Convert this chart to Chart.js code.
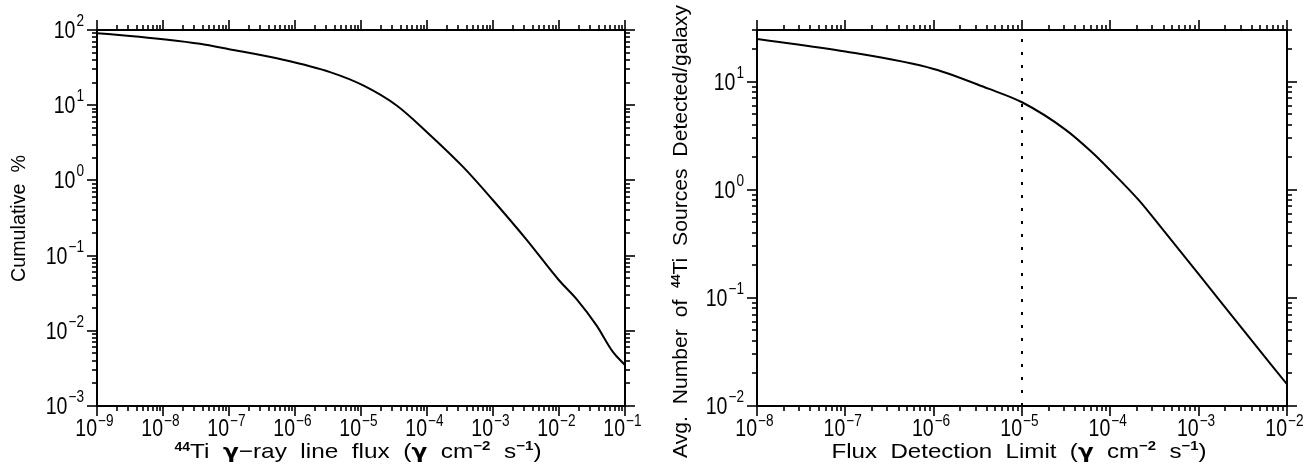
<!DOCTYPE html>
<html>
<head>
<meta charset="utf-8">
<script src="https://cdn.jsdelivr.net/npm/chart.js@4.4.1/dist/chart.umd.min.js"></script>
<style>
  html, body { margin: 0; padding: 0; background: #fff; }
  #wrap { position: relative; width: 1315px; height: 468px; }
  canvas { position: absolute; top: 0; }
</style>
</head>
<body>
<div id="wrap">
  <canvas id="cumChart" width="660" height="468" style="left:0px"></canvas>
  <canvas id="detChart" width="655" height="468" style="left:660px"></canvas>
</div>
<script>
// left panel: cumulative % vs 44Ti line flux
const cumFlux = [1e-9, 3.16e-9, 1e-8, 3.63e-8, 1e-7, 6.6e-7, 3.4e-6, 1.08e-5, 3.47e-5,
                 1e-4, 3.55e-4, 1e-3, 3.24e-3, 1e-2, 1.86e-2, 3.7e-2, 6.6e-2, 1e-1];
const cumPct  = [90.6, 83.5, 75.5, 65.5, 55.6, 40.2, 27.5, 18.3, 9.9,
                 4.38, 1.5, 0.545, 0.162, 0.047, 0.0262, 0.0118, 0.0052, 0.0035];
const cumXTicks = [1e-9, 1e-8, 1e-7, 1e-6, 1e-5, 1e-4, 1e-3, 1e-2, 1e-1];
const cumYTicks = [1e-3, 1e-2, 1e-1, 1, 10, 100];

// right panel: avg number detected vs detection limit
const detFlux  = [1e-8, 1e-7, 1e-6, 4.17e-6, 1e-5, 3.1e-5, 6.2e-5,
                  1e-4, 2.1e-4, 4e-4, 1e-3, 3.16e-3, 1e-2];
const detCount = [24.8, 19.0, 13.1, 8.6, 6.44, 3.6, 2.22,
                  1.51, 0.80, 0.42, 0.166, 0.051, 0.0159];
const detXTicks = [1e-8, 1e-7, 1e-6, 1e-5, 1e-4, 1e-3, 1e-2];
const detYTicks = [1e-2, 1e-1, 1, 10];
const detLimit = 1e-5;

const FONT = '"Liberation Sans", Arial, sans-serif';
const GREEK = '"DejaVu Sans", sans-serif';
const SQUEEZE = 0.85;

function fontOf(p) {
  return (p[3] ? 'bold ' : '') + p[1] + 'px ' + (p[4] ? GREEK : FONT);
}

function drawRich(ctx, parts, x, y, align, width) {
  // parts: [text, size, rise, bold, greek]
  let natural = 0;
  parts.forEach(p => { ctx.font = fontOf(p); natural += ctx.measureText(p[0]).width; });
  const sx = width ? width / natural : SQUEEZE;
  const total = natural * sx;
  const start = align === 'center' ? -total / 2 : align === 'right' ? -total : 0;
  ctx.save();
  ctx.translate(x + start, y);
  ctx.scale(sx, 1);
  ctx.textAlign = 'left';
  ctx.textBaseline = 'alphabetic';
  ctx.fillStyle = '#000';
  let cx = 0;
  parts.forEach(p => {
    ctx.font = fontOf(p);
    ctx.fillText(p[0], cx, -(p[2] || 0));
    cx += ctx.measureText(p[0]).width;
  });
  ctx.restore();
}

function expText(v) {
  const e = Math.round(Math.log10(v));
  return e < 0 ? '\u2212' + (-e) : String(e);
}

function logTicks(min, max) {
  const out = [];
  for (let e = Math.floor(Math.log10(min)); e <= Math.ceil(Math.log10(max)); e++) {
    for (let m = 1; m <= 9; m++) {
      const v = m * Math.pow(10, e);
      if (v >= min * 0.999 && v <= max * 1.001) out.push({ v, major: m === 1 });
    }
  }
  return out;
}

function seg(ctx, x1, y1, x2, y2) {
  ctx.beginPath(); ctx.moveTo(x1, y1); ctx.lineTo(x2, y2); ctx.stroke();
}

const frameTicks = {
  id: 'frameTicks',
  afterDraw(chart, args, opts) {
    const { ctx, chartArea: a, scales: { x, y } } = chart;
    ctx.save();
    ctx.strokeStyle = '#000';
    ctx.lineWidth = 2;
    ctx.strokeRect(a.left, a.top, a.right - a.left, a.bottom - a.top);
    ctx.lineWidth = 1.6;
    logTicks(x.min, x.max).forEach(t => {
      const px = Math.round(x.getPixelForValue(t.v));
      const len = t.major ? 10 : 5;
      seg(ctx, px, a.bottom, px, a.bottom + len);
      seg(ctx, px, a.top, px, a.top - len);
    });
    logTicks(y.min, y.max).forEach(t => {
      const py = Math.round(y.getPixelForValue(t.v));
      const len = t.major ? 10 : 5;
      seg(ctx, a.left, py, a.left - len, py);
      seg(ctx, a.right, py, a.right + len, py);
    });
    ctx.restore();

    opts.xTicks.forEach(v => {
      const px = x.getPixelForValue(v);
      drawRich(ctx, [['10', 23]], px, a.bottom + 30, 'right');
      drawRich(ctx, [[expText(v), 16]], px + 1, a.bottom + 20, 'left');
    });
    opts.yTicks.forEach(v => {
      const py = y.getPixelForValue(v);
      const ex = expText(v);
      ctx.font = '16px ' + FONT;
      const ew = ctx.measureText(ex).width * SQUEEZE;
      drawRich(ctx, [[ex, 16]], a.left - 13, py - 4, 'right');
      drawRich(ctx, [['10', 23]], a.left - 14 - ew, py + 8, 'right');
    });

    const t = opts.xTitle;
    drawRich(ctx, t.parts, t.x, t.y, 'center', t.width);
    const v = opts.yTitle;
    ctx.save();
    ctx.translate(v.x, v.y);
    ctx.rotate(-Math.PI / 2);
    drawRich(ctx, v.parts, 0, 0, 'center', v.width);
    ctx.restore();
  }
};

function makeChart(id, datasets, xr, yr, pad, plug) {
  return new Chart(document.getElementById(id), {
    type: 'line',
    data: { datasets },
    options: {
      responsive: false,
      animation: false,
      devicePixelRatio: 1,
      layout: { padding: pad },
      scales: {
        x: { type: 'logarithmic', min: xr[0], max: xr[1], display: false },
        y: { type: 'logarithmic', min: yr[0], max: yr[1], display: false }
      },
      plugins: { legend: { display: false }, tooltip: { enabled: false }, frameTicks: plug }
    },
    plugins: [frameTicks]
  });
}

const curveStyle = { borderColor: '#000', borderWidth: 2, pointRadius: 0,
                     cubicInterpolationMode: 'monotone', fill: false };

const G = '\u03b3';
makeChart('cumChart',
  [Object.assign({ data: cumFlux.map((f, i) => ({ x: f, y: cumPct[i] })) }, curveStyle)],
  [1e-9, 1e-1], [1e-3, 100],
  { left: 97, right: 35, top: 30, bottom: 62 },
  {
    xTicks: cumXTicks, yTicks: cumYTicks,
    xTitle: { x: 358, y: 458, width: 367, parts: [
      ['44', 12, 7, true], ['Ti  ', 21], [G, 20, 0, true, true], ['\u2212ray  line  flux  (', 21],
      [G, 20, 0, true, true], ['  cm', 21], ['\u22122', 13, 8, true], ['  s', 21], ['\u22121', 13, 8, true], [')', 21]] },
    yTitle: { x: 25, y: 218.5, width: 127, parts: [['Cumulative  %', 21]] }
  });

makeChart('detChart', [
    Object.assign({ data: detFlux.map((f, i) => ({ x: f, y: detCount[i] })) }, curveStyle),
    { data: [{ x: detLimit, y: 0.01 }, { x: detLimit, y: 30 }], borderColor: '#000', borderWidth: 2,
      borderDash: [3, 10], pointRadius: 0, fill: false }
  ],
  [1e-8, 1e-2], [1e-2, 30],
  { left: 97, right: 28, top: 30, bottom: 62 },
  {
    xTicks: detXTicks, yTicks: detYTicks,
    xTitle: { x: 359, y: 458, width: 375, parts: [
      ['Flux  Detection  Limit  (', 21], [G, 20, 0, true, true], ['  cm', 21], ['\u22122', 13, 8, true],
      ['  s', 21], ['\u22121', 13, 8, true], [')', 21]] },
    yTitle: { x: 26.5, y: 231.5, width: 453, parts: [
      ['Avg.  Number  of  ', 21], ['44', 12, 7, true], ['Ti  Sources  Detected/galaxy', 21]] }
  });
</script>
</body>
</html>
